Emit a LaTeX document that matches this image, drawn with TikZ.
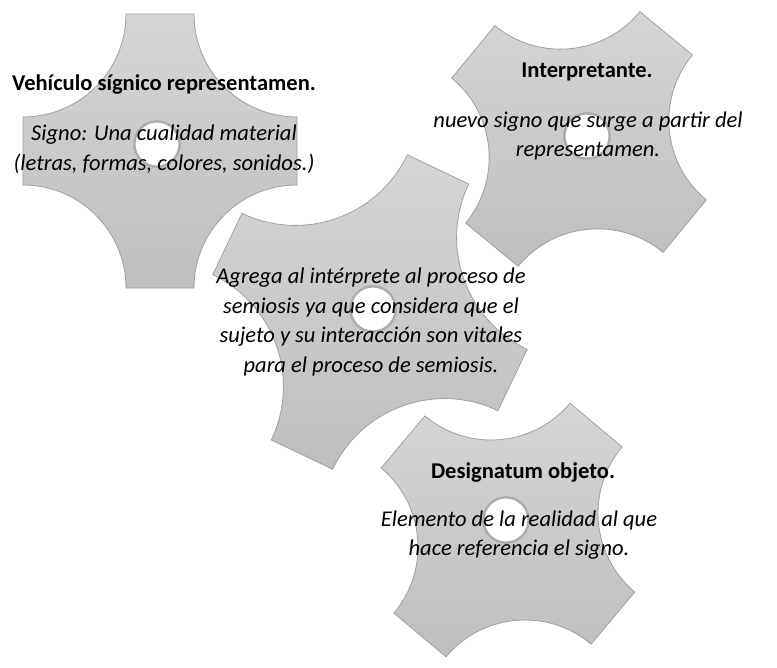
\documentclass[tikz,border=0pt]{standalone}
\usepackage{fontspec}
\setmainfont{Carlito}
\usepackage{xcolor}
\usepackage{tikz}
\definecolor{GearLight}{RGB}{214,214,214}
\definecolor{GearDark}{RGB}{190,190,190}
\definecolor{GearRim}{RGB}{160,160,160}
\definecolor{HoleRim}{RGB}{172,172,172}

\newcommand{\cogshape}[4]{%
  \begin{scope}[shift={(#1,#2)},rotate=#3]
    \pgfmathsetmacro{\cogr}{#4-34}
    \path[cog] (-34,#4) -- (34,#4)
      arc[start angle=180,end angle=270,radius=\cogr] -- (#4,-34)
      arc[start angle=90,end angle=180,radius=\cogr] -- (-34,-#4)
      arc[start angle=0,end angle=90,radius=\cogr] -- (-#4,34)
      arc[start angle=-90,end angle=0,radius=\cogr] -- cycle;
  \end{scope}}

\begin{document}
\begin{tikzpicture}[
  x=0.75pt, y=-0.75pt,
  cog/.style={draw=GearRim, line width=0.6pt, top color=GearLight, bottom color=GearDark},
  hole/.style={circle, draw=HoleRim, line width=1.8pt, fill=white, inner sep=0pt,
    minimum size=34pt},
  title/.style={font=\fontsize{16.9}{22.5}\selectfont\bfseries, align=center, inner sep=0pt},
  body/.style={font=\fontsize{16.9}{22.3}\selectfont\itshape, align=center, inner sep=0pt},
]
\useasboundingbox (0,0) rectangle (777,667);

\cogshape{160}{151}{0}{137}
\cogshape{579}{139}{-39.5}{137}
\cogshape{370}{312}{-25.5}{158}
\cogshape{508}{530}{-40}{137}

\node[hole] (holeVeh) at (157,144) {};
\node[hole] (holeInt) at (587,136) {};
\node[hole] (holeAgr) at (373,309) {};
\node[hole] (holeDes) at (506,520) {};

\node[title] (vehiculo) at (164,85) {Vehículo sígnico representamen.};
\node[body] (signo) at (164,149) {Signo: Una cualidad material\\(letras, formas, colores, sonidos.)};
\node[title] (interp) at (587,72) {Interpretante.};
\node[body] (nuevo) at (588,136) {nuevo signo que surge a partir del\\representamen.};
\node[body] (agrega) at (371,322) {Agrega al intérprete al proceso de\\semiosis ya que considera que el\\sujeto y su interacción son vitales\\para el proceso de semiosis.};
\node[title] (design) at (523,472) {Designatum objeto.};
\node[body] (elemento) at (519,535) {Elemento de la realidad al que\\hace referencia el signo.};
\end{tikzpicture}
\end{document}
